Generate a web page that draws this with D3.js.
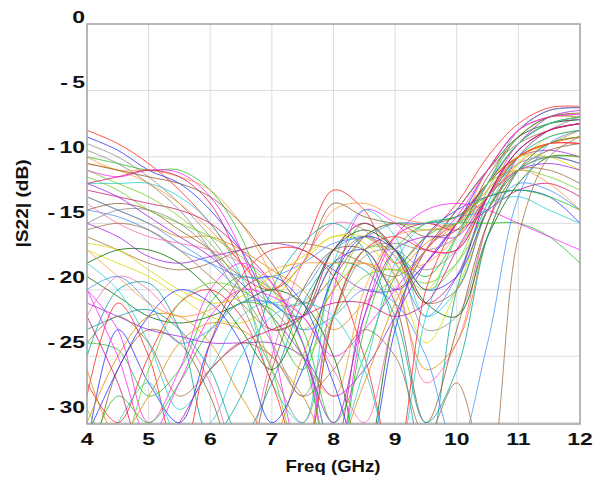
<!DOCTYPE html>
<html><head><meta charset="utf-8">
<script src="https://cdn.jsdelivr.net/npm/d3@7"></script>
<style>body{margin:0;background:#fff}svg{display:block}text{font-family:"Liberation Sans",Arial,sans-serif;font-weight:bold;fill:#111}</style>
</head><body>
<script>
const freqs = [4,4.5,5,5.5,6,6.5,7,7.5,8,8.5,9,9.5,10,10.5,11,11.5,12];
const xTicks = [4,5,6,7,8,9,10,11,12];
const yTicks = [0,-5,-10,-15,-20,-25,-30];
const yTickLabels = ["0","- 5","- 10","- 15","- 20","- 25","- 30"];
const xLabel = "Freq (GHz)";
const yLabel = "|S22| (dB)";
const series = [
[-8,-9,-10.5,-12.5,-15,-18,-20,-17,-12.5,-14,-18,-16,-13.5,-10,-7.5,-6.3,-6.2],
[-8.5,-9.5,-11,-12,-14,-17,-21,-22,-18,-17,-20,-18,-15,-11,-8,-6.5,-6.3],
[-10,-10.5,-11,-11,-12.5,-16,-22,-26,-19,-15,-17,-19,-16,-12,-8.5,-7,-7],
[-11,-11.5,-11,-11.2,-13,-17,-24,-33,-20,-14,-15,-17,-17,-13,-9,-7.5,-7.2],
[-12,-12,-12,-13,-15,-19,-27,-30,-18,-14,-16,-22,-20,-14,-10,-8,-7.5],
[-13,-14,-15,-16,-16,-17,-18.5,-20,-23,-21,-19,-16.5,-15,-13,-10,-9,-8],
[-14,-13.5,-14,-15.5,-17,-19,-20,-18,-13.5,-14.5,-15,-15,-14.5,-12,-9,-7.5,-7],
[-15,-16,-17.5,-18,-17.5,-17,-16.5,-17,-18.5,-20,-20,-18,-15,-12,-10,-9.5,-10],
[-9,-10,-11.5,-13.5,-16,-19,-21,-21,-17,-15,-17,-23,-22,-15,-10,-8,-7],
[-10.5,-11,-12,-13.5,-15.5,-18,-20,-18,-14,-13.5,-14.5,-15,-15,-13,-10.5,-9,-8.5],
[-11.5,-12.5,-14,-15,-16,-17.5,-20,-23,-20,-16,-15,-15.5,-15,-12,-11,-11.5,-12.5],
[-12.5,-13,-13.5,-14,-15,-17,-19.5,-24,-32,-21,-16,-15,-15.5,-14,-12.5,-12,-13],
[-13,-14,-15,-16.5,-18,-20,-21,-20,-17,-16,-18,-22,-19,-13,-9.5,-8,-7.5],
[-16,-17,-18,-18.5,-18,-17,-16.5,-16.5,-17,-18,-19,-17,-14,-11,-9,-8,-7.5],
[-17,-18,-19,-20.5,-22,-22.5,-21,-18,-16,-16.5,-19,-24,-20,-14,-10.5,-8.5,-8],
[-19,-20.5,-22,-22.5,-22,-21,-20,-21,-25,-33,-22,-17,-14,-11,-8.5,-7.5,-7.2],
[-22,-19,-20,-23,-27,-33,-25,-18,-15,-15.5,-19,-27,-24,-15,-10,-8,-7.5],
[-25,-20,-19.5,-23,-31,-28,-20,-16.5,-15,-17,-23,-33,-20,-13.5,-10,-8.5,-8],
[-28,-21,-25,-33,-24,-19,-17,-17,-19,-25,-33,-20,-15,-12,-10,-9,-9],
[-32,-23,-27,-30,-24,-20,-19,-21,-27,-33,-23,-16,-14,-13,-12.5,-13,-15],
[-24,-24.5,-28,-26,-21,-19,-20,-23,-30,-25,-19,-16,-15,-15,-15,-16,-18],
[-20,-23,-30,-26,-20,-18,-19.5,-24,-34,-22,-16,-14,-13.5,-14,-15,-16,-17],
[-18,-20,-24,-29,-26,-22,-21,-24,-32,-26,-18,-15,-15,-13.5,-13,-14,-15],
[-30,-25,-22,-22,-24,-28,-31,-25,-20,-18,-20,-26,-24,-16,-11,-9,-8.5],
[-35,-26,-23,-24,-28,-34,-26,-20,-17,-17,-21,-30,-23,-15,-11,-9.5,-9],
[-21,-22,-23,-23.5,-24,-24,-24,-25,-28,-26,-22,-18,-15,-12,-9,-7,-6.5],
[-9.5,-10.5,-12,-14,-17,-21,-26,-30,-22,-17,-16.5,-17,-16,-12,-8,-6.5,-6.3],
[-10,-11,-11,-11.5,-12.5,-15,-19,-25,-28,-20,-16,-15.5,-15,-11,-8,-7,-7],
[-11,-12,-13,-14.5,-16.5,-20,-26,-33,-22,-17,-17,-20,-18,-12.5,-9,-7.5,-7],
[-12,-11.5,-11,-11.5,-13.5,-18,-23,-22,-17,-15,-17,-21,-19,-13,-9.5,-8,-7.5],
[-14,-14.5,-15.5,-17,-18,-19,-19,-18,-16.5,-16,-15,-15,-14.5,-14,-12,-12.5,-14],
[-15.5,-15,-15.5,-17,-19,-21,-23,-22,-18,-16,-17.5,-21,-20,-14,-11,-11,-12],
[-16.5,-17,-18.5,-20,-21,-20.5,-19,-17.5,-16,-16,-18,-20,-16,-12,-10,-10,-11],
[-18,-17,-17,-18,-20,-23,-26,-22,-17,-15.5,-17,-21,-22,-16,-12,-10,-10],
[-13.5,-15,-16,-16.5,-17,-18,-20,-22,-26,-30,-22,-17,-14,-11,-8,-7,-6.8],
[-23,-22,-21.5,-23,-26,-31,-27,-21,-18,-18.5,-22,-30,-26,-16,-11,-9,-8.5],
[-27,-30,-25,-21,-20,-22,-27,-33,-22,-17,-16,-17,-17,-13,-10,-9,-9],
[-31,-26,-22,-20,-21,-24,-30,-26,-19,-16,-17,-20,-19,-14,-11,-10,-10.5],
[-33,-28,-30,-27,-23,-21,-21.5,-25,-34,-23,-17,-15,-14.5,-13,-12.5,-13,-14],
[-20,-25,-31,-27,-22,-20,-20.5,-22,-25,-23,-20,-17,-14.5,-11,-8,-7,-6.8],
[-34,-30,-27,-31,-30,-25,-22,-21,-22,-26,-33,-22,-16,-12,-9,-7.5,-7],
[-26,-31,-28,-24,-22.5,-23,-25,-28,-32,-27,-21,-17,-15,-12.5,-10,-9,-8.5],
[-10.5,-11,-11.5,-12,-13,-15,-18,-21,-19,-16,-15,-16,-15.5,-11.5,-8.5,-7,-6.7],
[-12,-13,-14.5,-16,-17.5,-19.5,-22,-25,-30,-22,-17,-16,-16,-13,-11,-10.5,-11],
[-15,-14,-14,-15,-17,-20,-24,-28,-22,-17.5,-17,-18.5,-17,-13,-10.5,-10,-10.5],
[-17,-19,-21,-22,-21.5,-20,-18.5,-18,-18,-18,-18.5,-18,-16,-13,-11,-12,-14],
[-29,-32,-26,-21,-19.5,-20,-22,-25,-22,-19,-18.5,-19.5,-18,-14,-11,-10,-10],
[-22,-27,-33,-30,-26,-24,-23,-22,-21,-21,-22,-21,-17,-13,-9.5,-8,-7.5],
[-20,-19,-21,-24,-23,-21,-21,-23,-22,-20,-21,-25,-32,-24,-13,-9,-8],
[-24,-22,-24,-28,-26,-24,-25,-28,-26,-23,-25,-31,-27,-34,-16,-10,-8.5]
];
const palette = ["#ff2020","#2030ff","#20c020","#ff20ff","#20d0d0","#e08a00","#8b5a2b","#9a20e0","#888888","#ff9933","#70d020","#d01070","#4090ff","#a07040","#d8d800","#006400","#ff66aa","#00a0a0"];

const W=602,H=477;
const x=d3.scaleLinear().domain([4,12]).range([87,580]);
const y=d3.scaleLinear().domain([0,-30.1]).range([24,424]);
const yLab=d3.scaleLinear().domain([0,-30]).range([17,407]);
const svg=d3.select("body").append("svg").attr("width",W).attr("height",H);

svg.append("defs").append("clipPath").attr("id","c").append("rect")
 .attr("x",x(4)).attr("y",y(0)).attr("width",x(12)-x(4)).attr("height",y(-30.1)-y(0));

const g=svg.append("g");
g.selectAll(".vg").data(xTicks.slice(1,-1)).join("line")
 .attr("x1",d=>x(d)).attr("x2",d=>x(d)).attr("y1",y(0)).attr("y2",y(-30.1))
 .attr("stroke","#dcdcdc").attr("stroke-width",1);
g.selectAll(".hg").data(yTicks.slice(1)).join("line")
 .attr("x1",x(4)).attr("x2",x(12)).attr("y1",d=>y(d)).attr("y2",d=>y(d))
 .attr("stroke","#dcdcdc").attr("stroke-width",1);

const line=d3.line().x((d,i)=>x(freqs[i])).y(d=>y(d)).curve(d3.curveCatmullRom.alpha(0.5));
svg.append("g").attr("clip-path","url(#c)").selectAll("path").data(series).join("path")
 .attr("d",line).attr("fill","none")
 .attr("stroke",(d,i)=>palette[i%palette.length])
 .attr("stroke-width",1).attr("stroke-opacity",0.78);

svg.append("rect").attr("x",x(4)).attr("y",y(0)).attr("width",x(12)-x(4)).attr("height",y(-30.1)-y(0))
 .attr("fill","none").attr("stroke","#a0a0a0").attr("stroke-width",1.5);

const SX=1.35;
svg.selectAll(".xt").data(xTicks).join("g")
 .attr("transform",d=>`translate(${x(d)},444.5) scale(${SX},1)`)
 .append("text").attr("text-anchor","middle").attr("font-size",17).text(d=>d);
svg.selectAll(".yt").data(yTicks).join("g")
 .attr("transform",d=>`translate(85,${yLab(d)}) scale(${SX},1)`)
 .append("text").attr("dy","0.36em").attr("text-anchor","end").attr("font-size",17)
 .attr("word-spacing","-1.5px").text((d,i)=>yTickLabels[i]);
svg.append("text").attr("x",333).attr("y",472).attr("text-anchor","middle").attr("font-size",17)
 .attr("textLength",95).attr("lengthAdjust","spacingAndGlyphs").text(xLabel);
svg.append("text").attr("transform","translate(28,203.5) rotate(-90)").attr("text-anchor","middle").attr("font-size",16)
 .attr("textLength",88).attr("lengthAdjust","spacingAndGlyphs").text(yLabel);
</script>
</body></html>
